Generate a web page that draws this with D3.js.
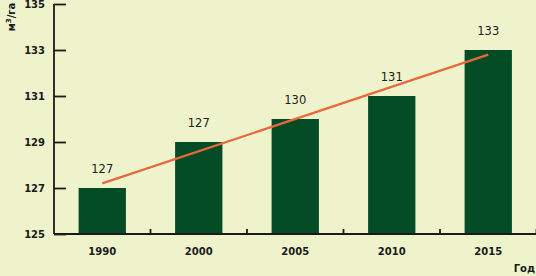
<!DOCTYPE html>
<html>
<head>
<meta charset="utf-8">
<script src="https://cdn.jsdelivr.net/npm/d3@7"></script>
<style>
  html, body { margin: 0; padding: 0; background: #eff3cc; }
  svg { display: block; }
</style>
</head>
<body>
<div id="chart"></div>
<script>
// chart data
const years = ['1990', '2000', '2005', '2010', '2015'];
const values = [127, 129, 130, 131, 133];
const valueLabels = ['127', '127', '130', '131', '133'];
const yTicks = [125, 127, 129, 131, 133, 135];

const width = 536, height = 276;
const margin = { top: 4, right: 0, bottom: 42, left: 54 };

const svg = d3.select('#chart').append('svg')
  .attr('width', width)
  .attr('height', height);

const x = d3.scaleBand()
  .domain(years)
  .range([margin.left, width + 0.5])
  .paddingInner(0.51)
  .paddingOuter(0.255);

const y = d3.scaleLinear()
  .domain([125, 135])
  .range([height - margin.bottom, margin.top]);

// bars
svg.append('g').selectAll('rect')
  .data(values)
  .enter().append('rect')
  .attr('x', (d, i) => x(years[i]))
  .attr('y', d => y(d))
  .attr('width', x.bandwidth())
  .attr('height', d => y(125) - y(d))
  .attr('fill', '#044c26');

// value labels
svg.append('g').selectAll('text')
  .data(values)
  .enter().append('text')
  .attr('x', (d, i) => x(years[i]) + x.bandwidth() / 2)
  .attr('y', d => y(d) - 15)
  .attr('text-anchor', 'middle')
  .style('font-family', 'DejaVu Sans, Verdana, sans-serif')
  .style('font-size', '11.5px')
  .style('fill', '#222')
  .text((d, i) => valueLabels[i]);

// linear trend line (least squares over category index)
const n = values.length;
const mx = d3.mean(d3.range(n));
const my = d3.mean(values);
const slope = d3.sum(values, (v, i) => (i - mx) * (v - my)) / d3.sum(d3.range(n), i => (i - mx) * (i - mx));
const icpt = my - slope * mx;
const cx = i => x(years[i]) + x.bandwidth() / 2;
svg.append('line')
  .attr('x1', cx(0))
  .attr('y1', y(icpt))
  .attr('x2', cx(n - 1))
  .attr('y2', y(icpt + slope * (n - 1)))
  .attr('stroke', '#e8693a')
  .attr('stroke-width', 2.2);

// y axis
const yAxis = d3.axisRight(y)
  .tickValues(yTicks)
  .tickSize(12)
  .tickFormat('');
const gy = svg.append('g')
  .attr('transform', `translate(${margin.left},0)`)
  .call(yAxis);
gy.select('.domain').remove();
gy.selectAll('.tick line').attr('stroke', '#1a1a1a').attr('stroke-width', 1.8);
gy.append('line')
  .attr('x1', 0).attr('x2', 0)
  .attr('y1', y(135)).attr('y2', y(125))
  .attr('stroke', '#1a1a1a').attr('stroke-width', 1.8);

svg.append('g').selectAll('text')
  .data(yTicks)
  .enter().append('text')
  .attr('x', margin.left - 9)
  .attr('y', d => y(d))
  .attr('dy', '0.35em')
  .attr('text-anchor', 'end')
  .style('font-family', 'DejaVu Sans, Verdana, sans-serif')
  .style('font-weight', 'bold')
  .style('font-size', '10px')
  .style('fill', '#1a1a1a')
  .text(d => d);

// x axis: baseline + ticks at band boundaries
const xb = y(125);
svg.append('line')
  .attr('x1', margin.left).attr('x2', width)
  .attr('y1', xb).attr('y2', xb)
  .attr('stroke', '#1a1a1a').attr('stroke-width', 1.8);

svg.append('g').selectAll('line')
  .data(years)
  .enter().append('line')
  .attr('x1', d => x(d) + x.bandwidth() + x.step() * x.paddingInner() / 2)
  .attr('x2', d => x(d) + x.bandwidth() + x.step() * x.paddingInner() / 2)
  .attr('y1', xb).attr('y2', xb - 5)
  .attr('stroke', '#1a1a1a').attr('stroke-width', 1.8);

svg.append('g').selectAll('text')
  .data(years)
  .enter().append('text')
  .attr('x', d => x(d) + x.bandwidth() / 2)
  .attr('y', xb + 17)
  .attr('dy', '0.35em')
  .attr('text-anchor', 'middle')
  .style('font-family', 'DejaVu Sans, Verdana, sans-serif')
  .style('font-weight', 'bold')
  .style('font-size', '10px')
  .style('fill', '#1a1a1a')
  .text(d => d);

// axis titles
svg.append('text')
  .attr('x', width - 1)
  .attr('y', 272)
  .attr('text-anchor', 'end')
  .style('font-family', 'DejaVu Sans, Verdana, sans-serif')
  .style('font-weight', 'bold')
  .style('font-size', '10px')
  .style('fill', '#1a1a1a')
  .text('Год');

const yt = svg.append('text')
  .attr('transform', 'translate(15,17) rotate(-90)')
  .attr('text-anchor', 'middle')
  .style('font-family', 'DejaVu Sans, Verdana, sans-serif')
  .style('font-weight', 'bold')
  .style('font-size', '10px')
  .style('fill', '#1a1a1a');
yt.append('tspan').text('м');
yt.append('tspan').attr('dy', -4).style('font-size', '7px').text('3');
yt.append('tspan').attr('dy', 4).text('/га');
</script>
</body>
</html>
